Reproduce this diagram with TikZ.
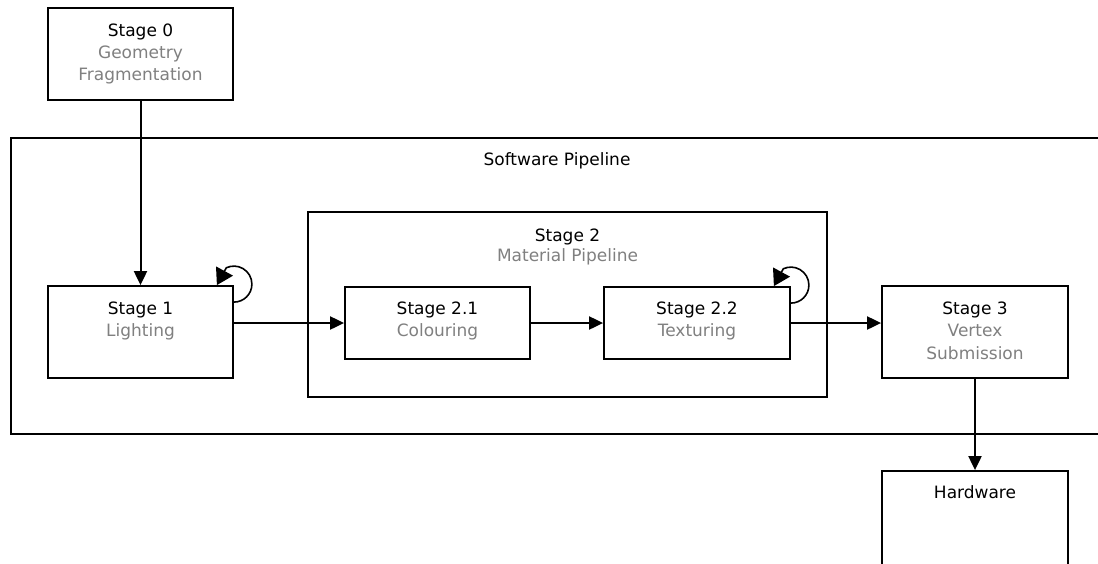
\documentclass[tikz,border=0pt]{standalone}
\usepackage{fontspec}
\setmainfont{DejaVu Sans}
\usetikzlibrary{arrows.meta,calc}
\definecolor{subtxt}{RGB}{128,128,128}
\begin{document}
\begin{tikzpicture}[x=1pt,y=-1pt,
  box/.style={draw, line width=1.8pt, inner sep=0pt},
  outer/.style={draw, line width=1.4pt, inner sep=0pt},
  lbl/.style={align=center, inner sep=0pt, anchor=north, font=\fontsize{17}{22}\selectfont},
  conn/.style={line width=2pt, -{Triangle[length=14pt,width=13pt]}},
  loop/.style={line width=1.6pt, -{Triangle[length=16pt,width=19pt]}}]
\clip (0,0) rectangle (1098,563);
\fill[white] (0,0) rectangle (1098,563);
% boxes
\node[outer, minimum width=1092pt, minimum height=296pt] (sp) at (557,286) {};
\node[box, minimum width=185pt, minimum height=92pt] (s0) at (140.5,54) {};
\node[box, minimum width=185pt, minimum height=92pt] (s1) at (140.5,332) {};
\node[box, minimum width=519pt, minimum height=185pt] (s2) at (567.5,304.5) {};
\node[box, minimum width=185pt, minimum height=72pt] (s21) at (437.5,323) {};
\node[box, minimum width=186pt, minimum height=72pt] (s22) at (697,323) {};
\node[box, minimum width=186pt, minimum height=92pt] (s3) at (975,332) {};
\node[box, minimum width=186pt, minimum height=110pt] (hw) at (975,526) {};
% labels
\node[lbl] at ($(s0.north)+(0,16.8)$) {Stage 0\\\color{subtxt}Geometry\\\color{subtxt}Fragmentation};
\node[lbl] at (557,152.8) {Software Pipeline};
\node[lbl] at ($(s1.north)+(0,16.1)$) {Stage 1\\\color{subtxt}Lighting};
\node[lbl, font=\fontsize{17}{20}\selectfont] at ($(s2.north)+(0,17.4)$) {Stage 2\\\color{subtxt}Material Pipeline};
\node[lbl] at ($(s21.north)+(0,15.1)$) {Stage 2.1\\\color{subtxt}Colouring};
\node[lbl] at ($(s22.north)+(0,15.1)$) {Stage 2.2\\\color{subtxt}Texturing};
\node[lbl, font=\fontsize{17}{22.5}\selectfont] at ($(s3.north)+(0,16.1)$) {Stage 3\\\color{subtxt}Vertex\\\color{subtxt}Submission};
\node[lbl] at ($(hw.north)+(0,15.4)$) {Hardware};
% connectors
\draw[conn] (s0.south) -- (s1.north);
\draw[conn] (s1.east |- s21.west) -- (s21.west);
\draw[conn] (s21.east) -- (s22.west);
\draw[conn] (s22.east) -- (s3.west |- s22.east);
\draw[conn] (s3.south) -- (hw.north);
% self loops
\draw[loop] ($(s1.north east)+(0,17)$) arc[start angle=90, end angle=-115, radius=18] -- ($(s1.north east)+(-17,0)$);
\draw[loop] ($(s22.north east)+(0,17)$) arc[start angle=90, end angle=-115, radius=18] -- ($(s22.north east)+(-17,0)$);
\end{tikzpicture}
\end{document}
